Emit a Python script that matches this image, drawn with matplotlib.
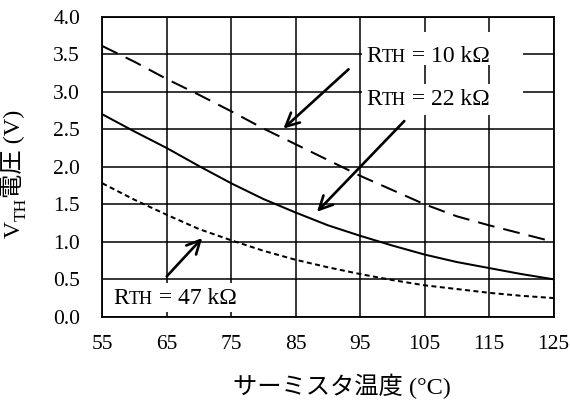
import matplotlib
matplotlib.use("Agg")
import matplotlib.pyplot as plt
from matplotlib.patches import Rectangle
from matplotlib.offsetbox import TextArea, HPacker, AnnotationBbox

# thermistor temperature (°C)
temps = [55, 60, 65, 70, 75, 80, 85, 90, 95, 100, 105, 110, 115, 120, 125]
# V_TH for each R_TH (V)
v_10k = [3.61, 3.40, 3.17, 2.96, 2.74, 2.51, 2.30, 2.09, 1.88, 1.69, 1.50, 1.34, 1.22, 1.11, 1.00]
v_22k = [2.70, 2.47, 2.25, 2.01, 1.78, 1.57, 1.39, 1.22, 1.08, 0.95, 0.83, 0.73, 0.65, 0.57, 0.50]
v_47k = [1.78, 1.56, 1.36, 1.17, 1.02, 0.88, 0.76, 0.66, 0.57, 0.49, 0.42, 0.37, 0.32, 0.28, 0.25]
x_ticks = [55, 65, 75, 85, 95, 105, 115, 125]
y_ticks = [0.0, 0.5, 1.0, 1.5, 2.0, 2.5, 3.0, 3.5, 4.0]
labels = ["10", "22", "47"]

SERIF = ["Liberation Serif", "Noto Sans CJK JP", "DejaVu Sans"]
plt.rcParams["font.family"] = SERIF

fig = plt.figure(figsize=(5.7, 4.03), dpi=100)
ax = fig.add_axes([0.1795, 0.2139, 0.7916, 0.7444])

ax.set_xlim(55, 125)
ax.set_ylim(0, 4.0)
ax.set_xticks(x_ticks)
ax.set_yticks(y_ticks)
ax.set_yticklabels([f"{v:.1f}" for v in y_ticks])
ax.tick_params(length=0, labelsize=15.5)
ax.tick_params(axis="x", pad=13)
ax.tick_params(axis="y", pad=16)
ax.grid(True, color="black", lw=1.1)
for sp in ax.spines.values():
    sp.set_linewidth(1.3)

ax.plot(temps, v_10k, color="black", lw=1.45, dashes=(8.4, 4.5), zorder=3)
ax.plot(temps, v_22k, color="black", lw=1.45, zorder=3)
ax.plot(temps, v_47k, color="black", lw=1.45, dashes=(2.5, 1.7), zorder=3)

# white boxes behind the labels
for x0, y0, w, h in [(95.3, 3.36, 24.9, 0.44), (95.3, 2.69, 24.9, 0.41), (55.1, 0.07, 22.5, 0.38)]:
    ax.add_patch(Rectangle((x0, y0), w, h, facecolor="white", edgecolor="none", zorder=2.2))


def rth_label(value, x, y):
    parts = [
        TextArea("R", textprops=dict(size=17, family=SERIF)),
        TextArea("TH", textprops=dict(size=13, family=SERIF)),
        TextArea(f" = {value} kΩ", textprops=dict(size=17, family=SERIF)),
    ]
    box = HPacker(children=parts, align="baseline", pad=0, sep=0)
    ab = AnnotationBbox(box, (x, y), xycoords="data", box_alignment=(0, 0.5),
                        frameon=False, pad=0, zorder=4)
    ax.add_artist(ab)


rth_label(labels[0], 95.9, 3.47)
rth_label(labels[1], 95.9, 2.90)
rth_label(labels[2], 56.7, 0.25)

arrow = dict(arrowstyle="->", lw=1.9, color="black", mutation_scale=24, shrinkA=0, shrinkB=0)
ax.annotate("", xy=(83.1, 2.51), xytext=(93.2, 3.30), arrowprops=arrow, zorder=3)
ax.annotate("", xy=(88.3, 1.40), xytext=(101.85, 2.61), arrowprops=arrow, zorder=3)
ax.annotate("", xy=(70.5, 1.05), xytext=(65.0, 0.54), arrowprops=arrow, zorder=3)

# x label
fig.text(342 / 570, 1 - 386 / 403, "サーミスタ温度 (°C)", ha="center", va="center",
         fontsize=17.5, family=["Liberation Serif", "Noto Sans CJK JP"])

# y label: V, subscript TH, then 電圧 (V), stacked upwards
fig.canvas.draw()
renderer = fig.canvas.get_renderer()
H = fig.bbox.height
W = fig.bbox.width
base_x = 20 / W
y = 1 - 238 / 403
pieces = [("V", 17, 0), ("TH", 12.5, 6), ("電圧 (V)", 17.5, 0)]
for txt, size, shift in pieces:
    t = fig.text(base_x + shift / W, y, txt, rotation=90, rotation_mode="anchor",
                 ha="left", va="baseline", fontsize=size,
                 family=["Liberation Serif", "Noto Sans CJK JP"])
    bb = t.get_window_extent(renderer)
    y = bb.y1 / H

fig.savefig("out.png", dpi=100)
